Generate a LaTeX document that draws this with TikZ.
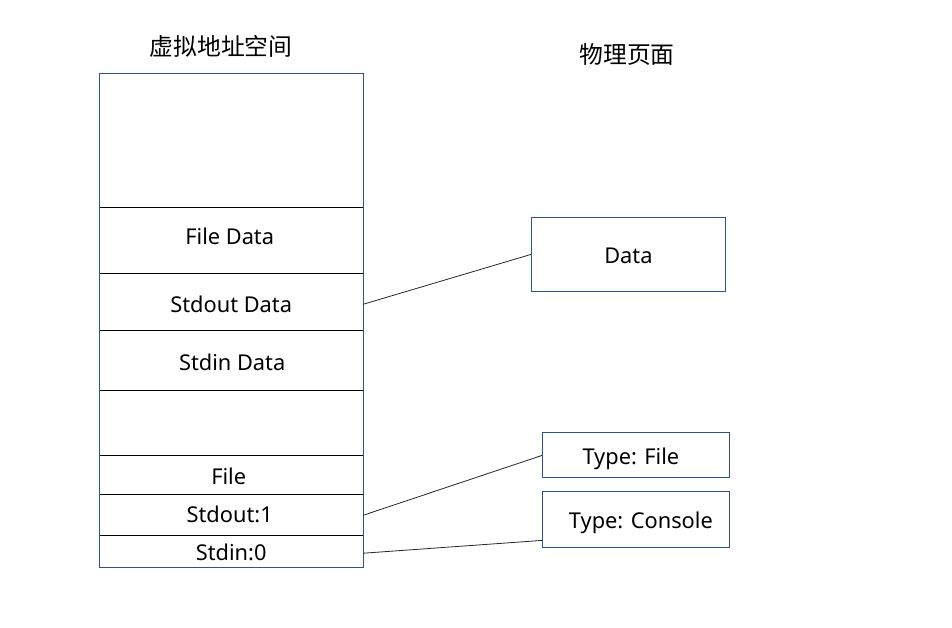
\documentclass[tikz,border=0pt]{standalone}
\usepackage{fontspec}
\setmainfont{Noto Sans}
\newfontfamily\cjk{Noto Sans CJK SC}
\definecolor{boxblue}{HTML}{2F528F}
\begin{document}
\begin{tikzpicture}[x=1pt,y=-1pt,
  cell/.style={draw=none,inner sep=0pt,minimum width=264pt,anchor=north west,text height=16pt,text depth=5pt,font=\fontsize{21.8}{24}\selectfont},
  pbox/.style={draw=boxblue,line width=0.8pt,inner sep=0pt,anchor=north west,text height=16pt,text depth=5pt,font=\fontsize{21.8}{24}\selectfont},
  title/.style={font=\cjk\fontsize{23.8}{26}\selectfont},
  link/.style={draw=black!85,line width=0.8pt}]
\useasboundingbox (0,0) rectangle (952,627);
\node[title] (vt) at (221,46) {虚拟地址空间};
\node[title] (pt) at (627,54) {物理页面};
% virtual address column cells
\node[cell,minimum height=134pt] (c0) at (99,73) {};
\node[cell,minimum height=66pt] (c1) at (99,207) {\raisebox{1pt}{\hspace*{-3pt}File Data}};
\node[cell,minimum height=57pt] (c2) at (99,273) {\raisebox{-5pt}{Stdout Data}};
\node[cell,minimum height=60pt] (c3) at (99,330) {\raisebox{-4.3pt}{\hspace*{2pt}Stdin Data}};
\node[cell,minimum height=65pt] (c4) at (99,390) {};
\node[cell,minimum height=39pt] (c5) at (99,455) {\raisebox{-3.8pt}{\hspace*{-5pt}File}};
\node[cell,minimum height=41pt] (c6) at (99,494) {\raisebox{-1.8pt}{\hspace*{-3pt}Stdout:1}};
\node[cell,minimum height=32pt] (c7) at (99,535) {\raisebox{-3.3pt}{Stdin:0}};
\foreach \a/\b in {c0/c1,c1/c2,c2/c3,c3/c4,c4/c5,c5/c6,c6/c7}
  \draw[line width=0.8pt] (\a.south west) -- (\a.south east);
\draw[draw=boxblue,line width=0.8pt] (c0.north west) rectangle (c7.south east);
% physical pages
\node[pbox,minimum width=194pt,minimum height=74pt] (d) at (531,217) {\raisebox{-3.3pt}{Data}};
\node[pbox,minimum width=187pt,minimum height=45pt] (tf) at (542,432) {\raisebox{-3.8pt}{\hspace*{-10pt}Type: File}};
\node[pbox,minimum width=187pt,minimum height=56pt] (tc) at (542,491) {\raisebox{-3.3pt}{\hspace*{10pt}Type: Console}};
% links
\draw[link] ([yshift=-2.5pt]c2.east) -- (d.west);
\draw[link] ([yshift=-0.5pt]c6.east) -- ([yshift=-0.5pt]tf.west);
\draw[link] ([yshift=-2pt]c7.east) -- ([yshift=-21pt]tc.west);
\end{tikzpicture}
\end{document}
